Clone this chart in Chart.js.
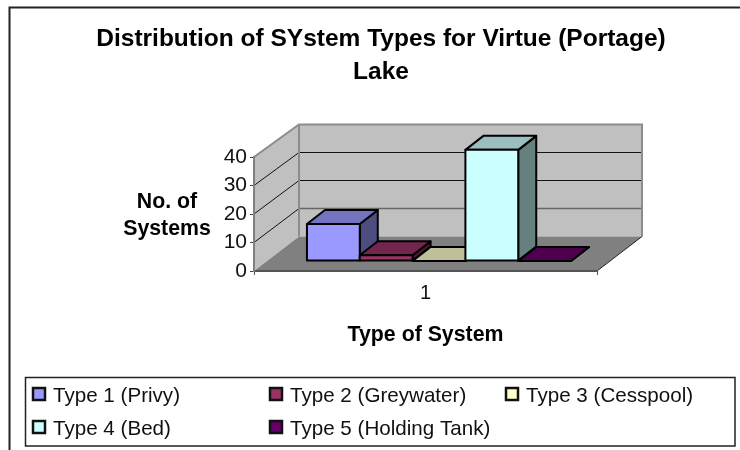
<!DOCTYPE html>
<html>
<head>
<meta charset="utf-8">
<title>Distribution of SYstem Types</title>
<script src="https://cdn.jsdelivr.net/npm/chart.js@4"></script>
<style>
    body { margin: 0; background: #fff; }
    canvas { display: block; }
</style>
</head>
<body>
<canvas id="myChart" width="740" height="450"></canvas>
<script>
const categories = ['1'];
const seriesNames = ['Type 1 (Privy)', 'Type 2 (Greywater)', 'Type 3 (Cesspool)', 'Type 4 (Bed)', 'Type 5 (Holding Tank)'];
const seriesValues = [13, 2, 0, 39, 0];
const seriesColors = ['#9999ff', '#993366', '#ffffcc', '#ccffff', '#660066'];
const titleLines = ['Distribution of SYstem Types for Virtue (Portage)', 'Lake'];
const yTitleLines = ['No. of', 'Systems'];
const xTitle = 'Type of System';

const FONT = '"Liberation Sans", Arial, sans-serif';
// how far the back wall sits behind the front plane, and the bars inside that depth
const DEPTH_X = 45, DEPTH_Y = -35;
const BAR_SHIFT_X = 13.5, BAR_SHIFT_Y = -10;
const BAR_DEPTH_X = 18, BAR_DEPTH_Y = -14;

function shade(hex, k) {
    const n = parseInt(hex.slice(1), 16);
    const c = [n >> 16, (n >> 8) & 255, n & 255].map((v) => Math.round(v * k));
    return `rgb(${c[0]},${c[1]},${c[2]})`;
}

function poly(ctx, pts, fill, stroke, lw) {
    ctx.beginPath();
    pts.forEach((p, i) => i ? ctx.lineTo(p[0], p[1]) : ctx.moveTo(p[0], p[1]));
    ctx.closePath();
    if (fill) { ctx.fillStyle = fill; ctx.fill(); }
    if (stroke) { ctx.strokeStyle = stroke; ctx.lineWidth = lw; ctx.stroke(); }
}

const box3d = {
    id: 'box3d',
    beforeDraw(chart) {
        const ctx = chart.ctx, a = chart.chartArea, y = chart.scales.y;
        const l = a.left, r = a.right, t = y.getPixelForValue(40), b = y.getPixelForValue(0);
        // crisp half pixel rows for the thin lines on the back wall
        const backY = (v) => Math.round(b + DEPTH_Y + (y.getPixelForValue(v) - b) * 112 / 114) + 0.5;
        const bl = l + DEPTH_X, br = r + DEPTH_X;
        ctx.save();
        // frame of the picture, only top and left show
        ctx.strokeStyle = '#222';
        ctx.lineWidth = 2;
        ctx.beginPath();
        ctx.moveTo(9.5, 450); ctx.lineTo(9.5, 7.5); ctx.lineTo(740, 7.5);
        ctx.stroke();
        // walls and floor
        poly(ctx, [[l, b], [l, t], [bl, backY(40)], [bl, backY(0)]], '#c0c0c0');
        poly(ctx, [[bl, backY(40)], [br, backY(40)], [br, backY(0)], [bl, backY(0)]], '#c0c0c0');
        poly(ctx, [[l, b], [r, b], [br, backY(0)], [bl, backY(0)]], '#808080');
        [10, 20, 30].forEach((v) => {
            ctx.strokeStyle = v === 10 ? '#666' : '#111';
            ctx.lineWidth = v === 10 ? 1.5 : 1;
            ctx.beginPath();
            ctx.moveTo(bl, backY(v)); ctx.lineTo(br, backY(v));
            ctx.stroke();
            ctx.strokeStyle = '#111';
            ctx.lineWidth = 1;
            ctx.beginPath();
            ctx.moveTo(l, y.getPixelForValue(v)); ctx.lineTo(bl, backY(v));
            ctx.stroke();
        });
        ctx.strokeStyle = '#8c8c8c';
        ctx.lineWidth = 2;
        ctx.beginPath();
        ctx.moveTo(l, t); ctx.lineTo(bl, backY(40)); ctx.lineTo(br, backY(40)); ctx.lineTo(br, backY(0));
        ctx.moveTo(bl, backY(40)); ctx.lineTo(bl, backY(0));
        ctx.stroke();
        ctx.strokeStyle = '#222';
        ctx.lineWidth = 1;
        ctx.beginPath();
        ctx.moveTo(r, b); ctx.lineTo(br, backY(0));
        ctx.stroke();
        ctx.restore();
    },
    beforeDatasetDraw() {
        // bars are drawn together below, left to right, so the faces overlap properly
        return false;
    },
    afterDatasetsDraw(chart) {
        const ctx = chart.ctx;
        seriesValues.forEach((v, i) => {
            const bar = chart.getDatasetMeta(i).data[0];
            const x0 = bar.x - bar.width / 2, x1 = bar.x + bar.width / 2;
            const top = bar.y, base = bar.base, dx = BAR_DEPTH_X, dy = BAR_DEPTH_Y;
            ctx.save();
            ctx.translate(BAR_SHIFT_X, BAR_SHIFT_Y);
            ctx.lineJoin = 'round';
            poly(ctx, [[x1, top], [x1 + dx, top + dy], [x1 + dx, base + dy], [x1, base]], shade(seriesColors[i], 0.5), '#000', 2);
            poly(ctx, [[x0, top], [x1, top], [x1 + dx, top + dy], [x0 + dx, top + dy]], shade(seriesColors[i], 0.75), '#000', 2);
            bar.draw(ctx);
            poly(ctx, [[x0, top], [x1, top], [x1, base], [x0, base]], null, '#000', 2);
            ctx.restore();
        });
    },
    afterDraw(chart) {
        const ctx = chart.ctx;
        ctx.save();
        ctx.fillStyle = '#000';
        ctx.textAlign = 'center';
        ctx.font = `bold 24.5px ${FONT}`;
        titleLines.forEach((s, i) => ctx.fillText(s, 381, 46 + i * 33));
        ctx.font = `bold 21.3px ${FONT}`;
        yTitleLines.forEach((s, i) => ctx.fillText(s, 167, 208 + i * 27));
        // legend in three aligned columns
        ctx.strokeStyle = '#222';
        ctx.lineWidth = 1.5;
        ctx.strokeRect(25.5, 377.5, 709.5, 68.5);
        ctx.textAlign = 'left';
        ctx.font = `20.6px ${FONT}`;
        const colX = [32, 269, 505];
        seriesNames.forEach((s, i) => {
            const x = colX[i % 3], yy = i < 3 ? 387 : 420;
            ctx.fillStyle = seriesColors[i];
            ctx.fillRect(x, yy, 14, 14);
            ctx.strokeStyle = '#111';
            ctx.lineWidth = 2.5;
            ctx.strokeRect(x + 1, yy + 1, 12, 12);
            ctx.fillStyle = '#111';
            ctx.fillText(s, x + 21, yy + 15);
        });
        ctx.restore();
    }
};

const ctx = document.getElementById('myChart');
const myChart = new Chart(ctx, {
    type: 'bar',
    data: {
        labels: categories,
        datasets: seriesNames.map((name, i) => ({
            label: name,
            data: [seriesValues[i]],
            backgroundColor: seriesColors[i],
            borderWidth: 0,
            barPercentage: 1,
            categoryPercentage: 0.77
        }))
    },
    options: {
        responsive: false,
        animation: false,
        layout: { padding: { left: 204, right: 143, top: 157, bottom: 102 } },
        plugins: { legend: { display: false }, title: { display: false }, tooltip: { enabled: false } },
        scales: {
            x: {
                afterFit(s) { s.height = 77; },
                grid: { offset: true, drawOnChartArea: false, tickLength: 4, color: '#555', lineWidth: 1 },
                border: { color: '#555', width: 2 },
                ticks: { color: '#111', padding: 6, font: { family: FONT, size: 20 } },
                title: { display: true, text: xTitle, color: '#000', font: { family: FONT, size: 21.3, weight: 'bold' }, padding: 0 }
            },
            y: {
                min: 0,
                max: 40,
                afterFit(s) { s.width = 50; },
                grid: { drawOnChartArea: false, tickLength: 4, color: '#444', lineWidth: 1 },
                border: { color: '#808080', width: 2 },
                ticks: { stepSize: 10, color: '#111', padding: 3, font: { family: FONT, size: 21 } }
            }
        }
    },
    plugins: [box3d]
});
</script>
</body>
</html>
